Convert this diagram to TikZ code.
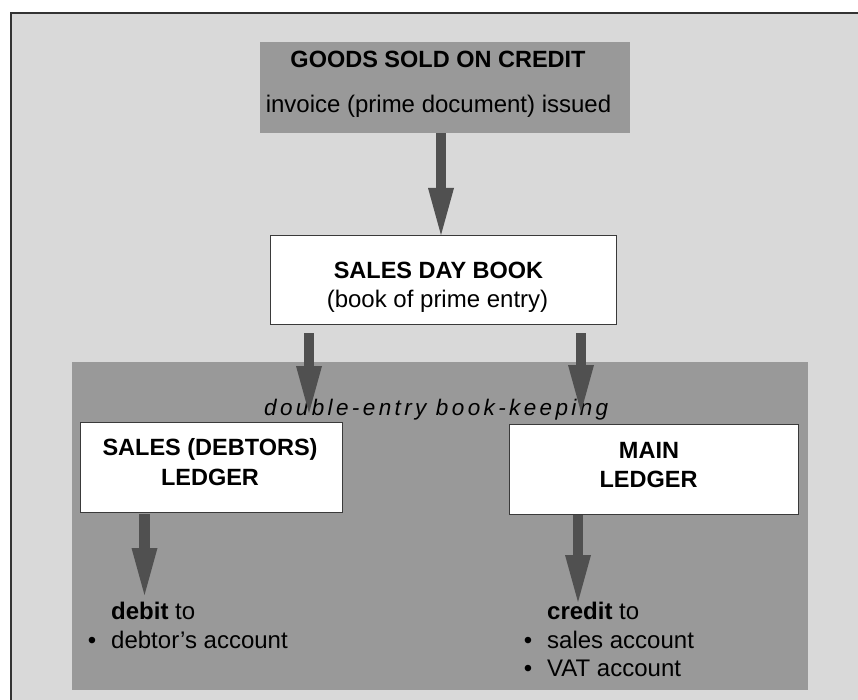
\documentclass[tikz,border=0pt]{standalone}
\usepackage{fontspec}
\setmainfont{Liberation Sans}
\newfontfamily\spacedit[LetterSpace=15]{Liberation Sans}
\usetikzlibrary{arrows.meta}
\definecolor{bglight}{HTML}{D9D9D9}
\definecolor{boxgray}{HTML}{999999}
\definecolor{arrowgray}{HTML}{505050}
\definecolor{edgegray}{HTML}{3A3A3A}
\begin{document}
\begin{tikzpicture}[x=1pt,y=-1pt,
  txt/.style={inner sep=0pt, anchor=base, font=\fontsize{24}{30}\selectfont},
  boldtxt/.style={txt, font=\fontsize{23.5}{30}\selectfont\bfseries},
  leftbase/.style={inner sep=0pt, anchor=base west, font=\fontsize{24}{30}\selectfont},
  grayblock/.style={fill=boxgray, inner sep=0pt, anchor=north west},
  wbox/.style={draw=edgegray, line width=1pt, fill=white, inner sep=0pt, anchor=north west},
  bigarrow/.style={arrowgray, line width=10.5pt, -{Triangle[length=47pt,width=26pt,line width=0pt]}}]
\useasboundingbox (0,0) rectangle (858,700);
% frame
\fill[bglight] (11,13) rectangle (858,700);
\draw[line width=1.5pt, black!80] (11,700) -- (11,13) -- (858,13);
% top box
\node[grayblock, minimum width=370pt, minimum height=91pt] (top) at (260,42) {};
\node[boldtxt] (t1) at (438,68) {GOODS SOLD ON CREDIT};
\node[txt] (t2) at (438.5,113) {invoice (prime document) issued};
% sales day book
\node[wbox, minimum width=346pt, minimum height=89pt] (sdb) at (270,235) {};
\node[boldtxt] (s1) at (438.5,278) {SALES DAY BOOK};
\node[txt] (s2) at (437.5,307) {(book of prime entry)};
% double-entry region
\node[grayblock, minimum width=736pt, minimum height=328pt] (dbl) at (72,362) {};
\node[inner sep=0pt, anchor=base west, font=\fontsize{22.5}{28}\spacedit\itshape] (dlabel) at (264,415) {double-entry book-keeping};
% ledgers
\node[wbox, minimum width=262pt, minimum height=90pt] (sdl) at (80,422) {};
\node[boldtxt] (l1) at (210,455) {SALES (DEBTORS)};
\node[boldtxt] (l2) at (210,485) {LEDGER};
\node[wbox, minimum width=289pt, minimum height=90pt] (main) at (509,424) {};
\node[boldtxt] (m1) at (649,458) {MAIN};
\node[boldtxt] (m2) at (648.5,487) {LEDGER};
% bottom texts
\node[leftbase] (d1) at (111,619) {\textbf{debit} to};
\node[txt] (db1) at (92,648) {\textbullet};
\node[leftbase] (d2) at (111,648) {debtor’s account};
\node[leftbase] (c1) at (547,619) {\textbf{credit} to};
\node[txt] (cb1) at (528,648) {\textbullet};
\node[leftbase] (c2) at (547,648) {sales account};
\node[txt] (cb2) at (528,676) {\textbullet};
\node[leftbase] (c3) at (547,676) {VAT account};
% connector ends
\coordinate (a0) at (441,0);
\coordinate (e1) at (309,413);
\coordinate (e2) at (581,412);
\coordinate (e3) at (144.5,595);
\coordinate (e4) at (578,602);
% arrows
\draw[bigarrow] (top.south -| a0) -- (sdb.north -| a0);
\draw[bigarrow, shorten <=8pt] (sdb.south -| e1) -- (e1);
\draw[bigarrow, shorten <=8pt] (sdb.south -| e2) -- (e2);
\draw[bigarrow, shorten <=1pt] (sdl.south -| e3) -- (e3);
\draw[bigarrow] (main.south -| e4) -- (e4);
\end{tikzpicture}
\end{document}
